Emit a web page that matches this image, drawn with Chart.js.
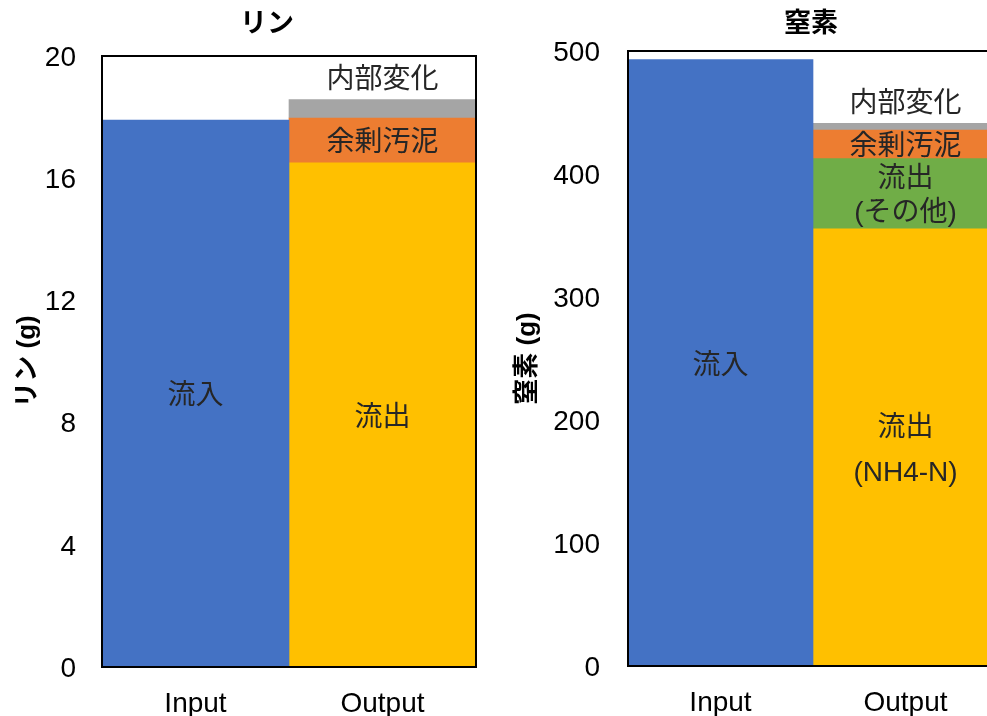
<!DOCTYPE html>
<html>
<head>
<meta charset="utf-8">
<script src="https://cdn.jsdelivr.net/npm/chart.js@4.4.1/dist/chart.umd.min.js"></script>
<style>
  html, body { margin: 0; padding: 0; background: #fff; overflow: hidden; width: 987px; height: 716px; }
  canvas { position: absolute; top: 0; }
  #phos { left: 0; }
  #nitro { left: 500px; }
</style>
</head>
<body>
<canvas id="phos" width="534" height="716"></canvas>
<canvas id="nitro" width="520" height="716"></canvas>
<script>
const categories = ['Input', 'Output'];

// リン収支 (g)
const phosInflow   = [17.9, null];
const phosOutflow  = [null, 16.5];
const phosSludge   = [null, 1.47];
const phosInternal = [null, 0.6];
const phosTicks    = [0, 4, 8, 12, 16, 20];

// 窒素収支 (g)
const nitroInflow   = [493, null];
const nitroOutNH4   = [null, 355.5];
const nitroOutOther = [null, 57];
const nitroSludge   = [null, 23.3];
const nitroInternal = [null, 5.4];
const nitroTicks    = [0, 100, 200, 300, 400, 500];

const FONT = '"Liberation Sans", Arial, "Noto Sans CJK JP", sans-serif';
const COLORS = { inflow: '#4472C4', outflow: '#FFC000', other: '#70AD47', sludge: '#ED7D31', internal: '#A5A5A5' };

// Text drawn inside each bar segment (or just above it for 内部変化)
const barLabels = {
  id: 'barLabels',
  afterDatasetsDraw(chart) {
    const ctx = chart.ctx;
    ctx.save();
    ctx.font = '28px ' + FONT;
    ctx.fillStyle = '#262626';
    ctx.textAlign = 'center';
    ctx.textBaseline = 'middle';
    chart.data.datasets.forEach((ds, di) => {
      const meta = chart.getDatasetMeta(di);
      meta.data.forEach((bar, i) => {
        if (ds.data[i] == null) return;
        const lines = ds.labelLines;
        const lh = ds.lineGap || 34;
        const cy = (ds.labelAbove ? bar.y - 22 : (bar.y + bar.base) / 2) + 3;
        const y0 = cy - (lines.length - 1) * lh / 2;
        lines.forEach((t, k) => ctx.fillText(t, bar.x, y0 + k * lh));
      });
    });
    ctx.restore();
  }
};

// Black frame around the plot area
const plotFrame = {
  id: 'plotFrame',
  afterDatasetsDraw(chart) {
    const { ctx, chartArea: a } = chart;
    ctx.save();
    ctx.strokeStyle = '#000';
    ctx.lineWidth = 2;
    ctx.strokeRect(a.left, a.top, a.right - a.left, a.bottom - a.top);
    ctx.restore();
  }
};

// Panel heading
const panelTitle = {
  id: 'panelTitle',
  afterDraw(chart, args, opts) {
    const ctx = chart.ctx;
    ctx.save();
    ctx.font = 'bold 27px ' + FONT;
    ctx.fillStyle = '#000';
    ctx.textAlign = 'center';
    ctx.textBaseline = 'middle';
    ctx.fillText(opts.text, opts.x, opts.y);
    ctx.restore();
  }
};

function makeChart(id, datasets, ticks, yTitle, cfg) {
  return new Chart(document.getElementById(id), {
    type: 'bar',
    data: { labels: categories, datasets },
    options: {
      responsive: false,
      animation: false,
      layout: { padding: { top: cfg.top, right: cfg.right, bottom: 0, left: 0 } },
      plugins: {
        legend: { display: false },
        tooltip: { enabled: false },
        panelTitle: { text: cfg.title, x: cfg.titleX, y: 25 }
      },
      datasets: { bar: { barPercentage: 1, categoryPercentage: 1, borderWidth: 0 } },
      scales: {
        x: {
          stacked: true,
          grid: { display: false, drawTicks: false },
          border: { display: false },
          ticks: { color: '#000', font: { family: FONT, size: 28 }, padding: 20 },
          afterFit(s) { s.height = cfg.xHeight; }
        },
        y: {
          stacked: true,
          min: ticks[0],
          max: ticks[ticks.length - 1],
          afterBuildTicks(s) { s.ticks = ticks.map(v => ({ value: v })); },
          grid: { display: false, drawTicks: false },
          border: { display: false },
          ticks: { color: '#000', font: { family: FONT, size: 28 }, padding: cfg.tickPad, labelOffset: 2 },
          title: {
            display: true, text: yTitle, color: '#000',
            font: { family: FONT, size: 26, weight: 'bold' },
            padding: { top: 12, bottom: 0 }
          },
          afterFit(s) { s.width = cfg.yWidth; }
        }
      }
    },
    plugins: [barLabels, plotFrame, panelTitle]
  });
}

makeChart('phos', [
  { label: '流入', data: phosInflow, backgroundColor: COLORS.inflow, labelLines: ['流入'] },
  { label: '流出', data: phosOutflow, backgroundColor: COLORS.outflow, labelLines: ['流出'] },
  { label: '余剰汚泥', data: phosSludge, backgroundColor: COLORS.sludge, labelLines: ['余剰汚泥'] },
  { label: '内部変化', data: phosInternal, backgroundColor: COLORS.internal, labelLines: ['内部変化'], labelAbove: true }
], phosTicks, 'リン (g)', { top: 56, right: 58, yWidth: 102, xHeight: 49, tickPad: 26, title: 'リン', titleX: 267 });

makeChart('nitro', [
  { label: '流入', data: nitroInflow, backgroundColor: COLORS.inflow, labelLines: ['流入'] },
  { label: '流出 (NH4-N)', data: nitroOutNH4, backgroundColor: COLORS.outflow, labelLines: ['流出', '(NH4-N)'], lineGap: 45 },
  { label: '流出 (その他)', data: nitroOutOther, backgroundColor: COLORS.other, labelLines: ['流出', '(その他)'] },
  { label: '余剰汚泥', data: nitroSludge, backgroundColor: COLORS.sludge, labelLines: ['余剰汚泥'] },
  { label: '内部変化', data: nitroInternal, backgroundColor: COLORS.internal, labelLines: ['内部変化'], labelAbove: true }
], nitroTicks, '窒素 (g)', { top: 51, right: 22, yWidth: 128, xHeight: 50, tickPad: 28, title: '窒素', titleX: 311 });
</script>
</body>
</html>
